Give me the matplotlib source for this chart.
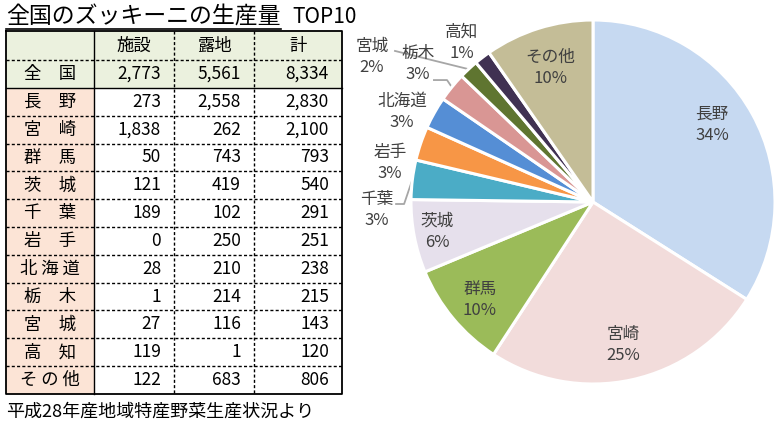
import matplotlib

matplotlib.use("Agg")
import matplotlib.pyplot as plt
import numpy as np

plt.rcParams["font.family"] = ["Noto Sans CJK JP", "DejaVu Sans"]

TITLE = "全国のズッキーニの生産量"
TITLE_SUFFIX = "TOP10"
SOURCE = "平成28年産地域特産野菜生産状況より"

COLUMNS = ["施設", "露地", "計"]
NATIONAL_NAME = "全国"
NATIONAL = [2773, 5561, 8334]

PREFS = ["長野", "宮崎", "群馬", "茨城", "千葉", "岩手", "北海道", "栃木", "宮城", "高知", "その他"]
FACILITY = [273, 1838, 50, 121, 189, 0, 28, 1, 27, 119, 122]
OPEN_FIELD = [2558, 262, 743, 419, 102, 250, 210, 214, 116, 1, 683]
TOTAL = [2830, 2100, 793, 540, 291, 251, 238, 215, 143, 120, 806]

SLICE_COLORS = [
    "#C6D9F1", "#F2DCDB", "#9BBB59", "#E6E0EC", "#4BACC6", "#F79646",
    "#558ED5", "#D99694", "#5F7530", "#403152", "#C4BD97",
]

# label centres in pie units (radius = 1)
LABEL_POS = {
    "長野": (0.654, 0.423),
    "宮崎": (0.165, -0.786),
    "群馬": (-0.621, -0.538),
    "茨城": (-0.857, -0.165),
    "千葉": (-1.187, -0.044),
    "岩手": (-1.115, 0.214),
    "北海道": (-1.049, 0.495),
    "栃木": (-0.962, 0.758),
    "宮城": (-1.214, 0.797),
    "高知": (-0.720, 0.874),
    "その他": (-0.236, 0.736),
}

# leader lines: start point and elbow (pie units), end is the slice edge
LEADERS = {
    "千葉": [(-1.082, -0.011), (-1.038, -0.011)],
    "栃木": [(-0.874, 0.670), (-0.802, 0.670)],
    "宮城": [(-1.088, 0.830)],
}

TEXT_GRAY = "#404040"
GREEN_FILL = "#EBF1DE"
PEACH_FILL = "#FCE4D6"


def spread(name):
    if len(name) == 2:
        return "\u3000".join(name)
    return " ".join(name)


def draw_table(ax):
    col_x = [6, 94, 174, 254, 342]
    row_y = [31, 60, 88] + [88 + 27.8 * (i + 1) for i in range(len(PREFS))]

    # fills
    ax.fill_between([col_x[0], col_x[-1]], row_y[0], row_y[2], color=GREEN_FILL, lw=0)
    ax.fill_between([col_x[0], col_x[1]], row_y[2], row_y[-1], color=PEACH_FILL, lw=0)

    dash = (0, (2.2, 1.6))
    for y in row_y[1:-1]:
        style = "-" if y == row_y[2] else dash
        ax.plot([col_x[0], col_x[-1]], [y, y], color="black", lw=1, ls=style)
    for x in col_x[2:-1]:
        ax.plot([x, x], [row_y[0], row_y[-1]], color="black", lw=1, ls=dash)
    ax.plot([col_x[1], col_x[1]], [row_y[0], row_y[-1]], color="black", lw=1)
    ax.plot(
        [col_x[0], col_x[-1], col_x[-1], col_x[0], col_x[0]],
        [row_y[0], row_y[0], row_y[-1], row_y[-1], row_y[0]],
        color="black", lw=1.3,
    )

    fs = 12.5
    for j, name in enumerate(COLUMNS):
        ax.text((col_x[j + 1] + col_x[j + 2]) / 2, (row_y[0] + row_y[1]) / 2, name,
                ha="center", va="center", fontsize=fs)

    rows = [(NATIONAL_NAME, NATIONAL)] + [
        (p, [f, o, t]) for p, f, o, t in zip(PREFS, FACILITY, OPEN_FIELD, TOTAL)
    ]
    for i, (name, vals) in enumerate(rows):
        yc = (row_y[i + 1] + row_y[i + 2]) / 2
        ax.text((col_x[0] + col_x[1]) / 2, yc, spread(name), ha="center", va="center", fontsize=fs)
        for j, v in enumerate(vals):
            ax.text(col_x[j + 2] - 13, yc, f"{v:,}", ha="right", va="center", fontsize=fs)


def draw_pie(ax):
    total = sum(TOTAL)
    wedges, _ = ax.pie(
        TOTAL,
        colors=SLICE_COLORS,
        startangle=90,
        counterclock=False,
        radius=1,
        wedgeprops=dict(edgecolor="white", linewidth=2.2),
    )
    for name, v, w in zip(PREFS, TOTAL, wedges):
        x, y = LABEL_POS[name]
        ax.text(x, y, f"{name}\n{round(v / total * 100)}%", ha="center", va="center",
                fontsize=12, color=TEXT_GRAY, linespacing=1.35)
        if name in LEADERS:
            mid = np.deg2rad((w.theta1 + w.theta2) / 2)
            pts = LEADERS[name] + [(np.cos(mid), np.sin(mid))]
            xs, ys = zip(*pts)
            ax.plot(xs, ys, color="#A6A6A6", lw=1.3, zorder=0.5, clip_on=False)
    ax.set_xlim(-1, 1)
    ax.set_ylim(-1, 1)
    ax.set_aspect("equal")
    ax.axis("off")


def main():
    fig = plt.figure(figsize=(7.83, 4.30), dpi=100)

    ax = fig.add_axes([0, 0, 1, 1])
    ax.set_xlim(0, 783)
    ax.set_ylim(430, 0)
    ax.axis("off")

    title = ax.text(6, 17, TITLE, fontsize=16.5, va="center", ha="left")
    draw_table(ax)
    ax.text(6, 412, SOURCE, fontsize=13, va="center", ha="left")

    fig.canvas.draw()
    bb = title.get_window_extent().transformed(ax.transData.inverted())
    ax.plot([bb.x0, bb.x1], [29, 29], color="black", lw=1.2)
    ax.text(bb.x1 + 12, 17, TITLE_SUFFIX, fontsize=15, va="center", ha="left")

    pie_ax = fig.add_axes([411 / 783, 46 / 430, 364 / 783, 364 / 430])
    pie_ax.set_zorder(2)
    draw_pie(pie_ax)

    fig.savefig("out.png", dpi=100)
    plt.close(fig)


if __name__ == "__main__":
    main()
